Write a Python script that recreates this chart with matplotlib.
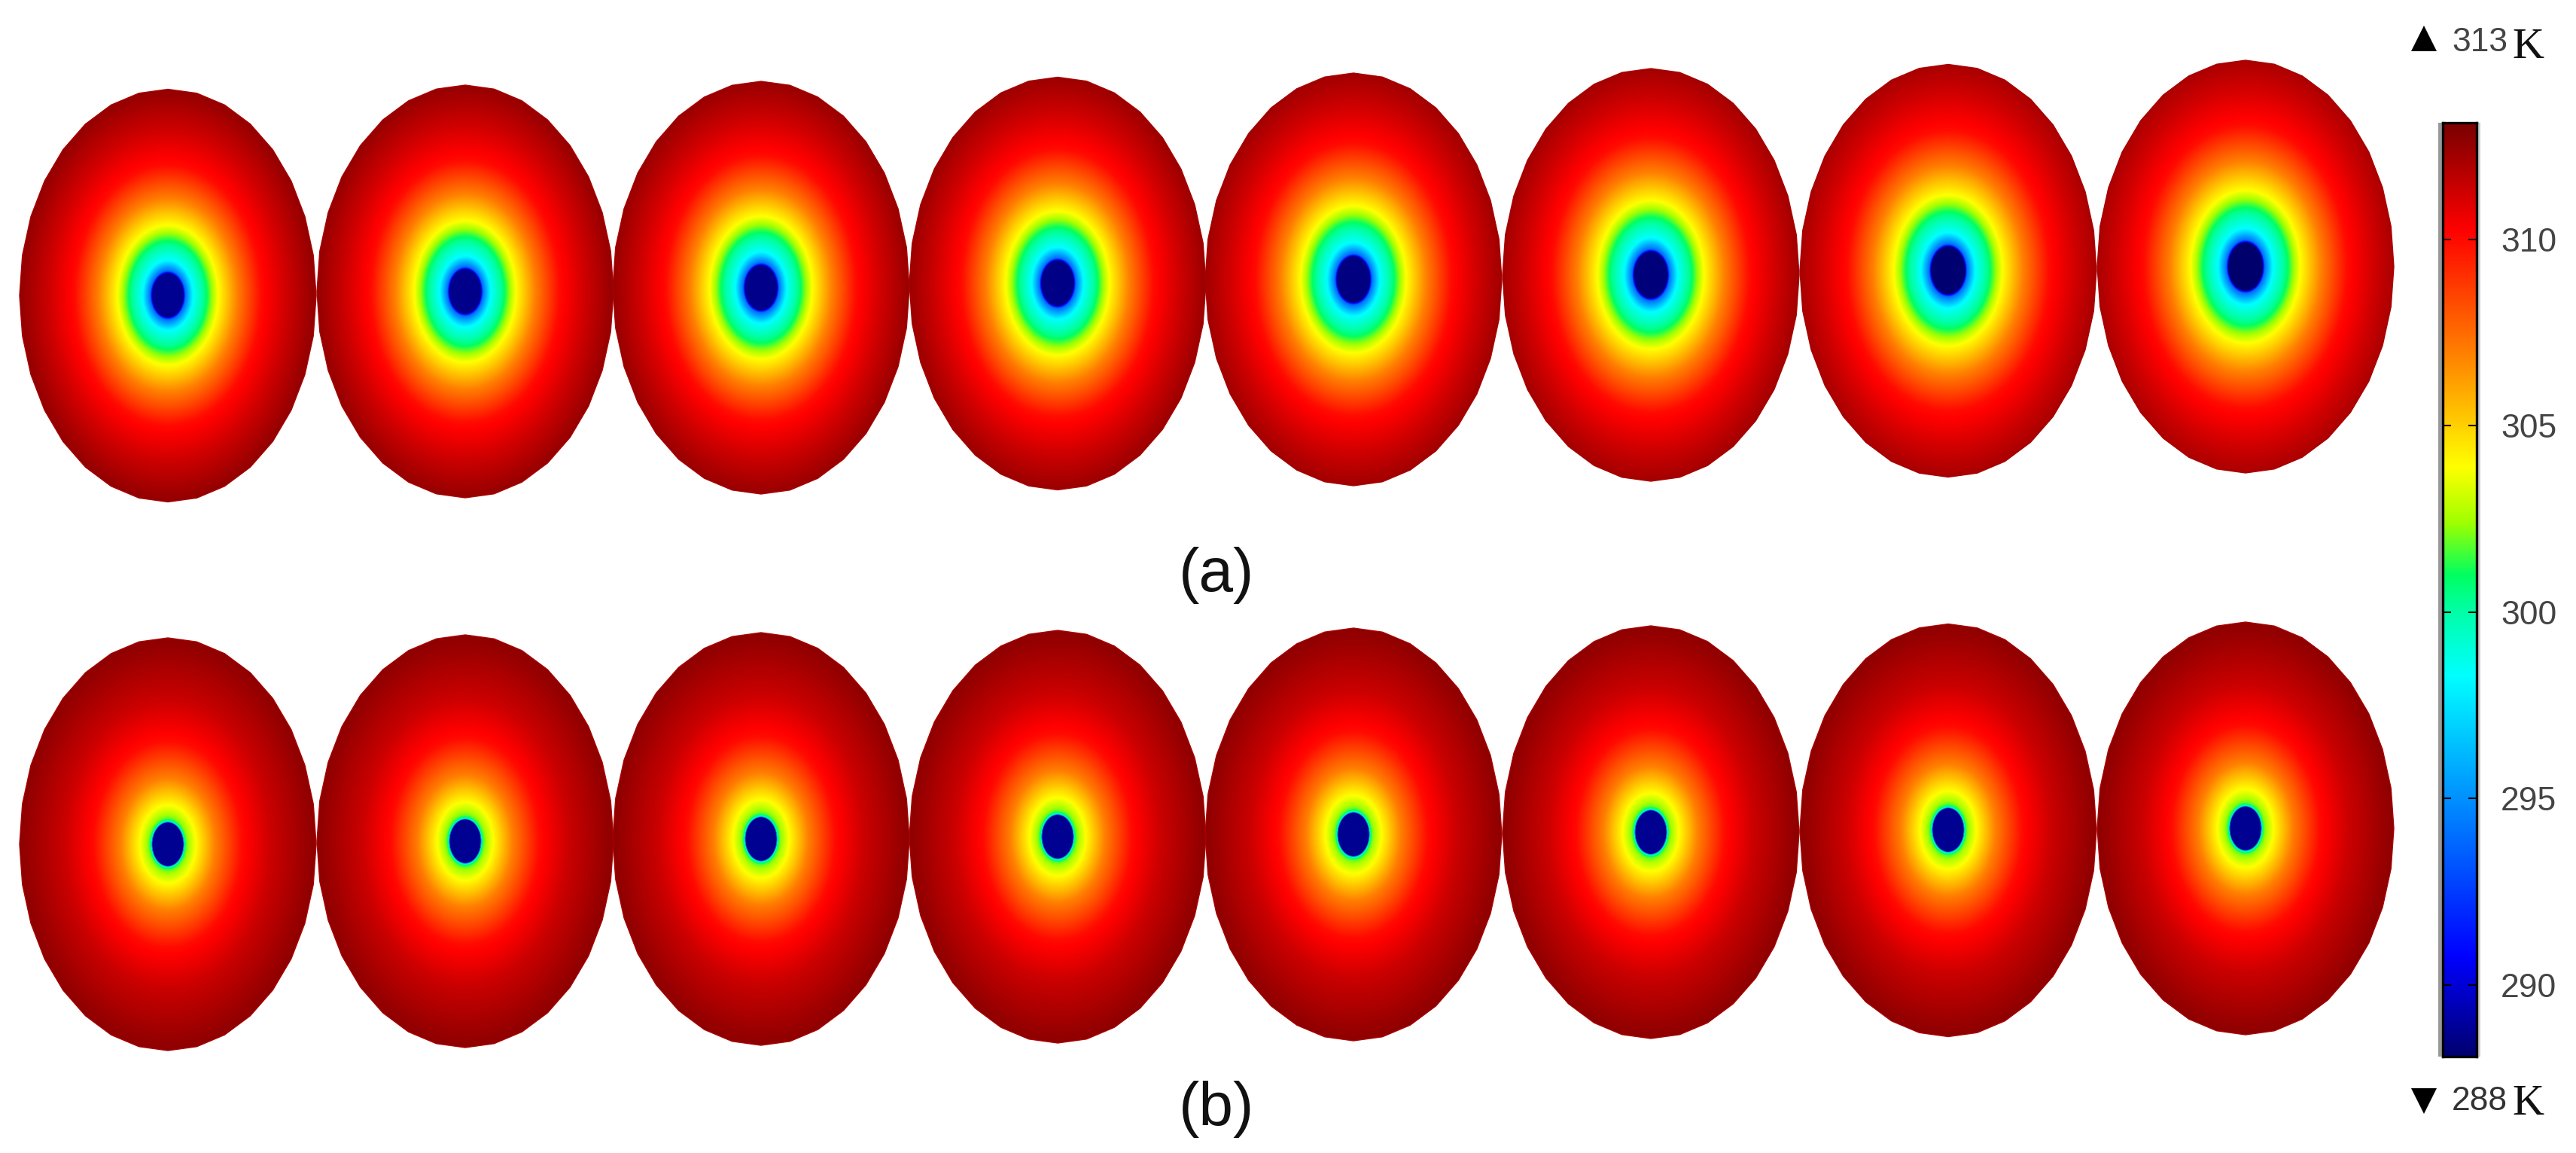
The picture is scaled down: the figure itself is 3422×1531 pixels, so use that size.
import numpy as np
import matplotlib
matplotlib.use('Agg')
import matplotlib.pyplot as plt
from matplotlib.colors import LinearSegmentedColormap
from matplotlib.patches import Polygon, Rectangle

# ellipse centres, in picture pixels
centre_x = [223, 618, 1011, 1405, 1798, 2193, 2588, 2983]
row_a_y = [392.5, 387, 382, 376.5, 371, 365, 359.5, 354]
row_b_y = [1121, 1117, 1114, 1111, 1108, 1105, 1102.5, 1100]
half_w = 197
half_h = 274

# temperature against normalised radius
radius_a = [0, 0.105, 0.118, 0.17, 0.25, 0.34, 0.47, 0.63, 0.80, 1.0]
temp_a = [288.7, 288.7, 294, 298.3, 300.5, 303.9, 307, 310, 311.3, 312.6]
radius_b = [0, 0.105, 0.109, 0.125, 0.145, 0.19, 0.32, 0.50, 0.70, 1.0]
temp_b = [288.7, 288.7, 299.5, 301.8, 302.6, 303.9, 307, 310, 311.4, 312.7]

# the cold spot in (a) spreads a little from frame to frame
spread_a = [1.0, 1.01, 1.02, 1.03, 1.05, 1.06, 1.08, 1.09]
core_a = [288.7, 288.6, 288.6, 288.5, 288.4, 288.3, 288.1, 288.0]

t_min, t_max = 288, 313
bar_ticks = [290, 295, 300, 305, 310]
facets = 32

# colours
stop_temps = [288, 290.7, 298.3, 300, 301, 302.4, 303.9, 307, 310.3, 313]
stop_colors = ['#00006c', '#0000ff', '#00ffff', '#00ffa8', '#00ff60', '#a0ff00', '#ffff00', '#ff8000', '#ff0000', '#800000']
stops = [(t - t_min) / (t_max - t_min) for t in stop_temps]
rainbow = LinearSegmentedColormap.from_list('bar', list(zip(stops, stop_colors)), N=512)

fig = plt.figure(figsize=(34.22, 15.31), dpi=100)
ax = fig.add_axes([0, 0, 1, 1])


def draw_frame(cx, cy, radius, temp, spread=1.0, core=None):
    xs = np.arange(cx - half_w - 2, cx + half_w + 3)
    ys = np.arange(cy - half_h - 2, cy + half_h + 3)
    xx, yy = np.meshgrid(xs, ys)
    r = np.hypot((xx - cx) / half_w, (yy - cy) / half_h)
    t = list(temp)
    if core is not None:
        t[0] = t[1] = core
    field = np.interp(r / spread, radius, t)
    im = ax.imshow(field, cmap=rainbow, vmin=t_min, vmax=t_max, origin='upper',
                   extent=(xs[0], xs[-1], ys[-1], ys[0]), interpolation='bilinear',
                   aspect='auto')
    angles = np.pi / 2 + np.arange(facets) * 2 * np.pi / facets
    outline = np.column_stack([cx + half_w * np.cos(angles), cy + half_h * np.sin(angles)])
    shape = Polygon(outline, closed=True, transform=ax.transData, fc='none',
                    ec='#a80000', lw=1.0)
    ax.add_patch(shape)
    im.set_clip_path(shape)


for i in range(len(centre_x)):
    draw_frame(centre_x[i], row_a_y[i], radius_a, temp_a, spread_a[i], core_a[i])
    draw_frame(centre_x[i], row_b_y[i], radius_b, temp_b)

# panel labels
ax.text(1616, 785, '(a)', fontsize=59, family='Liberation Sans', ha='center', va='baseline', color='#111111')
ax.text(1616, 1494, '(b)', fontsize=59, family='Liberation Sans', ha='center', va='baseline', color='#111111')

# max / min markers above and below the bar
ax.plot([3220], [51], marker='^', ms=25, color='black', mew=0)
ax.plot([3220], [1462], marker='v', ms=25, color='black', mew=0)
ax.text(3257, 56, '313', fontsize=32, family='Liberation Sans', va='center', color='#444444')
ax.text(3257, 1463, '288', fontsize=32, family='Liberation Sans', va='center', color='#333333')
ax.text(3337, 77, 'K', fontsize=42, family='Liberation Serif', va='baseline', color='#111111')
ax.text(3337, 1480, 'K', fontsize=42, family='Liberation Serif', va='baseline', color='#111111')

# soft edge round the colour bar
ax.add_patch(Rectangle((3239, 163), 10, 1240, fc='#999999', ec='none'))
ax.add_patch(Rectangle((3285, 163), 10, 1240, fc='#cccccc', ec='none'))

ax.set_xlim(0, 3422)
ax.set_ylim(1531, 0)
ax.axis('off')

# colour bar
W, H = 3422, 1531
bar_l, bar_r, bar_t, bar_b = 3245, 3290, 163, 1403
bar_lo, bar_hi = 288.08, 313.13
cax = fig.add_axes([bar_l / W, 1 - bar_b / H, (bar_r - bar_l) / W, (bar_b - bar_t) / H])
levels = np.linspace(bar_lo, bar_hi, 512).reshape(-1, 1)
cax.imshow(levels, cmap=rainbow, vmin=t_min, vmax=t_max, origin='lower', aspect='auto',
           extent=(0, 1, bar_lo, bar_hi))
cax.set_xlim(0, 1)
cax.set_ylim(bar_lo, bar_hi)
cax.set_xticks([])
cax.set_yticks(bar_ticks)
cax.yaxis.set_ticks_position('both')
cax.tick_params(axis='y', direction='in', length=8, width=1.5, color='black',
                labelleft=False, labelright=True, pad=23, labelsize=32, labelcolor='#444444')
for lab in cax.get_yticklabels():
    lab.set_family('Liberation Sans')
for name in cax.spines:
    cax.spines[name].set_linewidth(2.4)
    cax.spines[name].set_color('black')

fig.savefig('out.png', dpi=100, facecolor='white')
